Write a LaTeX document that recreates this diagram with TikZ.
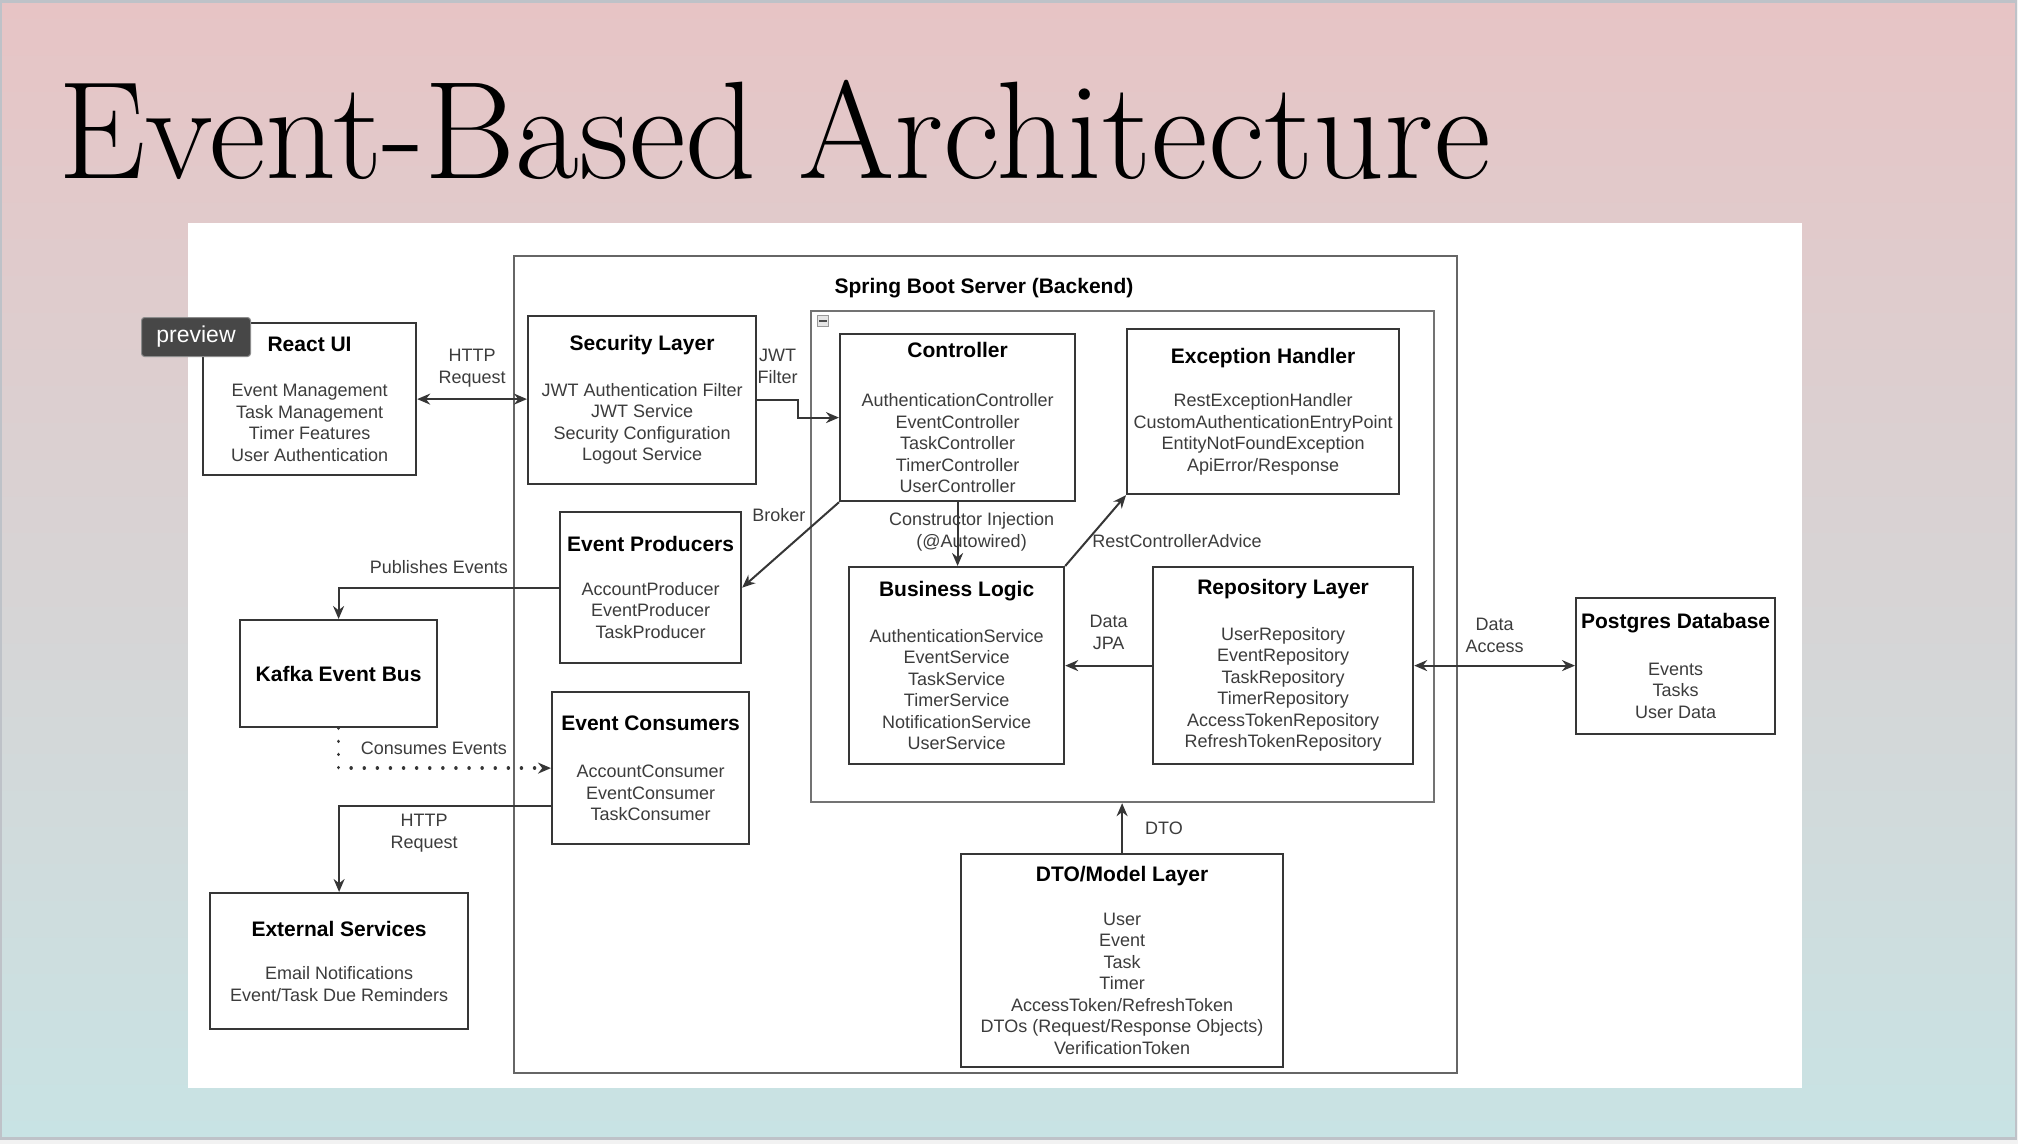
\documentclass[tikz,border=0pt]{standalone}
\usepackage{fontspec}
\newfontfamily\diagfont{Liberation Sans}
\usetikzlibrary{arrows.meta, positioning, calc}

\definecolor{slidetop}{HTML}{E7C4C5}
\definecolor{slidemid}{HTML}{DEDADB}
\definecolor{slidebot}{HTML}{C8E3E4}
\definecolor{slideframe}{HTML}{BEC2C8}
\definecolor{boxline}{HTML}{363636}
\definecolor{boxtext}{HTML}{3C3C3C}

\newcommand{\boxtitle}[1]{{\bfseries\color{black}\fontsize{21}{25}\selectfont #1}}

\tikzset{
  layer/.style={draw=boxline, line width=2.2pt, fill=white, align=center, anchor=north west, inner sep=0pt, text=boxtext, font=\diagfont\fontsize{18}{21.5}\selectfont},
  frame/.style={draw=black!60, line width=2.4pt, anchor=north west, inner sep=0pt},
  link/.style={draw=boxline, line width=2pt, -{Stealth[length=13pt,width=11pt]}},
  twoway/.style={link, {Stealth[length=13pt,width=11pt]}-{Stealth[length=13pt,width=11pt]}},
  lbl/.style={font=\diagfont\fontsize{18}{22}\selectfont, text=boxtext, align=center, inner sep=2pt},
}

\begin{document}
\begin{tikzpicture}[x=1pt, y=-1pt]
  \useasboundingbox (0,0) rectangle (2018,1144);
  \fill[black!5] (0,0) rectangle (2018,1144);
  \shade[top color=slidetop, middle color=slidemid, bottom color=slidebot] (0,0) rectangle (2016,1139);
  \draw[slideframe, line width=2.5pt] (1.2,1.5) rectangle (2016,1138.5);

  \node[anchor=base west, inner sep=0pt, font=\fontsize{139}{150}\selectfont] (title) at (58,178) {Event-Based Architecture};

  \fill[white] (188,223) rectangle (1802,1088);

  \node[frame, minimum width=943pt, minimum height=817pt] (backend) at (513,255) {};
  \node[font=\diagfont\bfseries\fontsize{21}{25}\selectfont] (backendname) at (984,288) {Spring Boot Server (Backend)};
  \node[frame, draw=black!55, line width=2.2pt, minimum width=623pt, minimum height=491pt] (core) at (810,310) {};
  \node[draw=black!40, fill=black!10, line width=0.8pt, minimum size=11pt, inner sep=0pt, anchor=north west] (fold) at (817,315) {};
  \draw[black!70, line width=2.5pt] ([xshift=2pt]fold.west) -- ([xshift=-2pt]fold.east);

  \node[layer, minimum width=213pt, minimum height=152pt] (react) at (202,322) {\boxtitle{React UI}\\[24pt]Event Management\\Task Management\\Timer Features\\User Authentication};
  \node[layer, minimum width=228pt, minimum height=168pt] (security) at (527,315) {\boxtitle{Security Layer}\\[24pt]JWT Authentication Filter\\JWT Service\\Security Configuration\\Logout Service};
  \node[layer, minimum width=235pt, minimum height=167pt] (controller) at (839,333) {\boxtitle{Controller}\\[28pt]AuthenticationController\\EventController\\TaskController\\TimerController\\UserController};
  \node[layer, minimum width=272pt, minimum height=165pt] (exception) at (1126,328) {\boxtitle{Exception Handler}\\[22pt]RestExceptionHandler\\CustomAuthenticationEntryPoint\\EntityNotFoundException\\ApiError/Response};
  \node[layer, minimum width=181pt, minimum height=151pt] (producers) at (559,511) {\boxtitle{Event Producers}\\[22pt]AccountProducer\\EventProducer\\TaskProducer};
  \node[layer, minimum width=197pt, minimum height=107pt] (kafka) at (239,619) {\boxtitle{Kafka Event Bus}};
  \node[layer, minimum width=197pt, minimum height=152pt] (consumers) at (551,691) {\boxtitle{Event Consumers}\\[26pt]AccountConsumer\\EventConsumer\\TaskConsumer};
  \node[layer, minimum width=258pt, minimum height=136pt] (external) at (209,892) {\boxtitle{External Services}\\[22pt]Email Notifications\\Event/Task Due Reminders};
  \node[layer, minimum width=215pt, minimum height=197pt] (logic) at (848,566) {\boxtitle{Business Logic}\\[24pt]AuthenticationService\\EventService\\TaskService\\TimerService\\NotificationService\\UserService};
  \node[layer, minimum width=260pt, minimum height=197pt] (repo) at (1152,566) {\boxtitle{Repository Layer}\\[24pt]UserRepository\\EventRepository\\TaskRepository\\TimerRepository\\AccessTokenRepository\\RefreshTokenRepository};
  \node[layer, minimum width=199pt, minimum height=136pt] (postgres) at (1575,597) {\boxtitle{Postgres Database}\\[25pt]Events\\Tasks\\User Data};
  \node[layer, minimum width=322pt, minimum height=213pt] (dto) at (960,853) {\boxtitle{DTO/Model Layer}\\[22pt]User\\Event\\Task\\Timer\\AccessToken/RefreshToken\\DTOs (Request/Response Objects)\\VerificationToken};

  \draw[twoway] (react.east) -- node[lbl, above=9pt] {HTTP\\Request} (react.east -| security.west);
  \draw[link] (security.east) -- node[lbl, above=13pt] {JWT\\Filter} ++(41,0) |- (controller.west);
  \draw[link] (controller.south west) -- node[lbl, pos=0.15, left=16pt] {Broker} (producers.east);
  \draw[link] (controller.south) -- node[lbl, xshift=14pt, yshift=2pt] {Constructor Injection\\(@Autowired)} (controller.south |- logic.north);
  \draw[link] (logic.north east) -- node[lbl, pos=0.35, right=3pt] {RestControllerAdvice} (exception.south west);
  \draw[link] (repo.west) -- node[lbl, above=13pt] {Data\\JPA} (repo.west -| logic.east);
  \draw[twoway] (repo.east) -- node[lbl, above=10pt] {Data\\Access} (repo.east -| postgres.west);
  \draw[link] (dto.north) -- node[lbl, right=20pt] {DTO} (dto.north |- core.south);
  \draw[link] (producers.west) -| node[lbl, pos=0.25, above=11pt, xshift=-10pt] {Publishes Events} (kafka.north);
  \draw[link, line width=3.4pt, line cap=round, dash pattern=on 0.1pt off 13pt] (kafka.south) |- node[lbl, pos=0.75, above=10pt, xshift=-11pt] {Consumes Events} (consumers.west);
  \draw[link] ([yshift=-38pt]consumers.west) -| node[lbl, pos=0.25, below=5pt, xshift=-21pt] {HTTP\\Request} (external.north);

  \node[fill=black!72, draw=black!45, line width=1pt, text=white, rounded corners=3pt, minimum width=109pt, minimum height=39pt, inner sep=0pt, anchor=north west, font=\diagfont\fontsize{23}{26}\selectfont] (badge) at (141,317) {preview};
\end{tikzpicture}
\end{document}
